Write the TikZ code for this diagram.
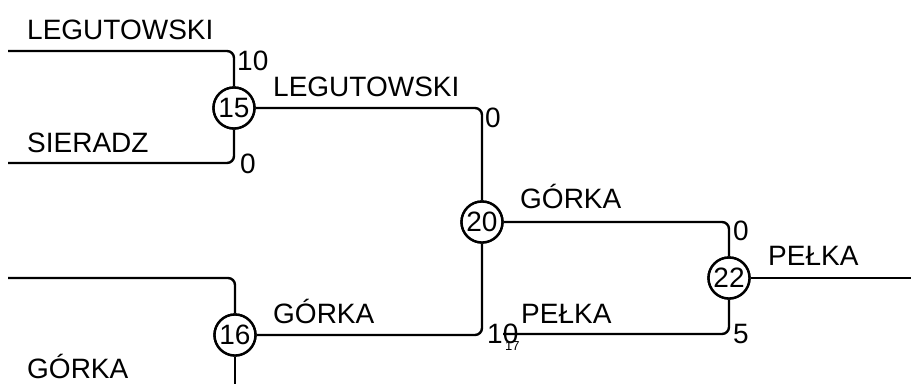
\documentclass[tikz,border=0pt]{standalone}
\usepackage{fontspec}
\setmainfont{Liberation Sans}
\begin{document}
\begin{tikzpicture}[x=1pt,y=-1pt,
  wire/.style={line width=2.4pt,rounded corners=7pt},
  game/.style={draw,circle,line width=2.4pt,minimum size=41pt,inner sep=0pt,fill=white,font=\fontsize{28}{30}\selectfont},
  lbl/.style={anchor=base west,inner sep=0pt,font=\fontsize{28}{30}\selectfont},
  tiny/.style={anchor=base west,inner sep=0pt,font=\fontsize{13}{14}\selectfont}]
\useasboundingbox (0,0) rectangle (911,384);
% entry points
\coordinate (a1) at (8,51);
\coordinate (a2) at (8,163);
\coordinate (a3) at (8,278);
\coordinate (a4) at (235,384);
\coordinate (c17) at (503,334);
\coordinate (out) at (911,278);
% game nodes
\node[game] (n15) at (234,108) {15};
\node[game] (n16) at (235,335) {16};
\node[game] (n20) at (482,222) {20};
\node[game] (n22) at (729,278) {22};
% connectors
\draw[wire] (a1) -| (n15);
\draw[wire] (a2) -| (n15);
\draw[wire] (a3) -| (n16);
\draw[wire] (n16) -- (a4);
\draw[wire] (n15) -| (n20);
\draw[wire] (n16) -| (n20);
\draw[wire] (n20) -| (n22);
\draw[wire] (c17) -| (n22);
\draw[wire] (n22) -- (out);
% redraw circles on top
\node[game] at (n15) {15};
\node[game] at (n16) {16};
\node[game] at (n20) {20};
\node[game] at (n22) {22};
% labels
\node[lbl] (t1) at (27,39) {LEGUTOWSKI};
\node[lbl] (t2) at (27,152) {SIERADZ};
\node[lbl] (t3) at (27,378) {GÓRKA};
\node[lbl] (t4) at (273,96) {LEGUTOWSKI};
\node[lbl] (t5) at (273,323) {GÓRKA};
\node[lbl] (t6) at (520,208) {GÓRKA};
\node[lbl] (t7) at (521,323) {PEŁKA};
\node[lbl] (t8) at (768,265) {PEŁKA};
\node[lbl] (s1) at (237,70) {10};
\node[lbl] (s2) at (240,173) {0};
\node[lbl] (s3) at (485,127) {0};
\node[lbl] (s4) at (487,343) {10};
\node[lbl] (s5) at (733,240) {0};
\node[lbl] (s6) at (733,343) {5};
\node[tiny] (s7) at (505,350) {17};
\end{tikzpicture}
\end{document}
